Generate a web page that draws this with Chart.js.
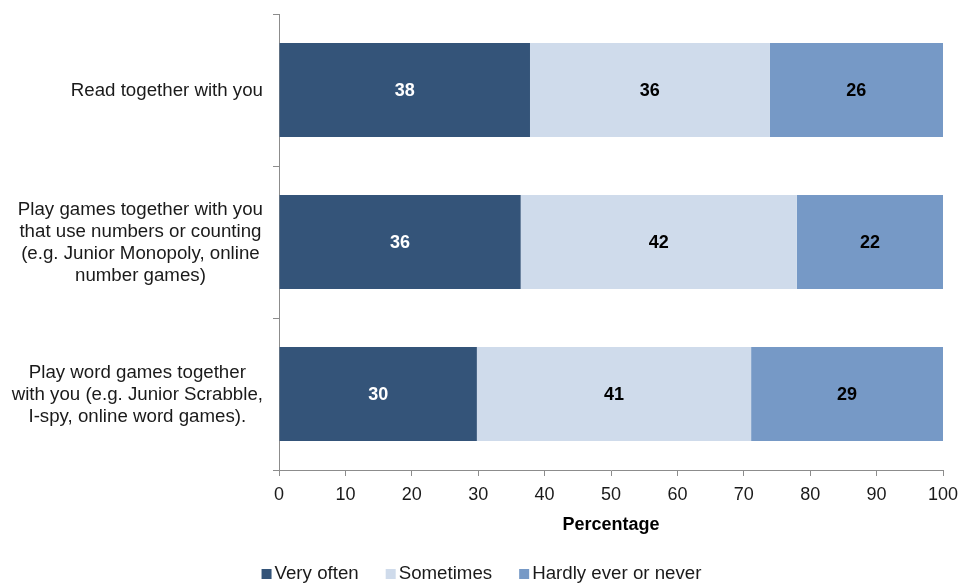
<!DOCTYPE html>
<html>
<head>
<meta charset="utf-8">
<script src="https://cdn.jsdelivr.net/npm/chart.js@4"></script>
<style>
  html, body { margin: 0; padding: 0; background: #fff; }
  #wrap { width: 959px; height: 583px; }
</style>
</head>
<body>
<div id="wrap"><canvas id="chart" width="959" height="583"></canvas></div>
<script>
// Activities and answer shares (percent)
const categories = [
    ['Read together with you'],
    ['Play games together with you', 'that use numbers or counting', '(e.g. Junior Monopoly, online', 'number games)'],
    ['Play word games together', 'with you (e.g. Junior Scrabble,', 'I-spy, online word games).']
];
const veryOften = [37.8, 36.4, 29.8];
const sometimes = [36.1, 41.6, 41.3];
const hardlyEver = [26.1, 22.0, 28.9];
const xTicks = [0, 10, 20, 30, 40, 50, 60, 70, 80, 90, 100];

const colors = {
    dark: '#345479',
    light: '#cfdbeb',
    mid: '#7699c6',
    axis: '#8c8c8c',
    text: '#1a1a1a'
};

const fontFamily = "'Liberation Sans', Arial, sans-serif";

// Draw the rounded value in the middle of every bar segment
const segmentLabels = {
    id: 'segmentLabels',
    afterDatasetsDraw(chart) {
        const ctx = chart.ctx;
        ctx.save();
        ctx.font = 'bold 18px ' + fontFamily;
        ctx.textAlign = 'center';
        ctx.textBaseline = 'middle';
        chart.data.datasets.forEach((ds, i) => {
            const meta = chart.getDatasetMeta(i);
            meta.data.forEach((bar, j) => {
                const mid = (bar.x + bar.base) / 2;
                ctx.fillStyle = i === 0 ? '#ffffff' : '#000000';
                ctx.fillText(Math.round(ds.data[j]), mid, bar.y + 1);
            });
        });
        ctx.restore();
    }
};

// Category labels: block right-aligned to the axis, lines centred inside the block
const categoryLabels = {
    id: 'categoryLabels',
    afterDraw(chart) {
        const ctx = chart.ctx;
        const yScale = chart.scales.y;
        const lineHeight = 22;
        const rightEdge = yScale.right - 16;
        ctx.save();
        ctx.font = '18.7px ' + fontFamily;
        ctx.fillStyle = colors.text;
        ctx.textAlign = 'center';
        ctx.textBaseline = 'middle';
        chart.data.labels.forEach((lines, i) => {
            const widest = Math.max(...lines.map(l => ctx.measureText(l).width));
            const cx = rightEdge - widest / 2;
            const cy = yScale.getPixelForTick(i);
            const top = cy - (lines.length - 1) * lineHeight / 2;
            lines.forEach((l, k) => ctx.fillText(l, cx, top + k * lineHeight + 1));
        });
        ctx.restore();
    }
};

// Legend drawn by hand so the swatch sits close to its text
const bottomLegend = {
    id: 'bottomLegend',
    afterDraw(chart) {
        const ctx = chart.ctx;
        const box = 10;
        const gapText = 3;
        const gapItem = 27;
        const y = chart.height - 10;
        ctx.save();
        ctx.font = '18.7px ' + fontFamily;
        ctx.textBaseline = 'middle';
        const items = chart.data.datasets.map(ds => ({
            label: ds.label,
            color: ds.backgroundColor,
            w: box + gapText + ctx.measureText(ds.label).width
        }));
        const total = items.reduce((s, it) => s + it.w, 0) + gapItem * (items.length - 1);
        let x = (chart.width - total) / 2 + 2;
        items.forEach(it => {
            ctx.fillStyle = it.color;
            ctx.fillRect(x, y - box / 2 + 1, box, box);
            ctx.fillStyle = colors.text;
            ctx.textAlign = 'left';
            ctx.fillText(it.label, x + box + gapText, y + 1);
            x += it.w + gapItem;
        });
        ctx.restore();
    }
};

new Chart(document.getElementById('chart'), {
    type: 'bar',
    data: {
        labels: categories,
        datasets: [
            { label: 'Very often', data: veryOften, backgroundColor: colors.dark },
            { label: 'Sometimes', data: sometimes, backgroundColor: colors.light },
            { label: 'Hardly ever or never', data: hardlyEver, backgroundColor: colors.mid }
        ]
    },
    options: {
        indexAxis: 'y',
        responsive: false,
        animation: false,
        layout: { autoPadding: false, padding: { top: 14, right: 16, left: 0, bottom: 45 } },
        datasets: {
            bar: { categoryPercentage: 0.62, barPercentage: 1.0 }
        },
        plugins: {
            tooltip: { enabled: false },
            legend: { display: false }
        },
        scales: {
            x: {
                stacked: true,
                min: 0,
                max: 100,
                afterBuildTicks: (scale) => {
                    scale.ticks = xTicks.map(v => ({ value: v }));
                },
                afterFit: (scale) => {
                    scale.height = 68;
                    scale.paddingLeft = 0;
                    scale.paddingRight = 0;
                },
                border: { color: colors.axis, width: 1 },
                grid: { drawOnChartArea: false, tickLength: 6, color: colors.axis },
                ticks: {
                    color: colors.text,
                    padding: 8,
                    maxRotation: 0,
                    font: { family: fontFamily, size: 18 }
                },
                title: {
                    display: true,
                    text: 'Percentage',
                    color: '#000',
                    padding: { top: 4, bottom: 2 },
                    font: { family: fontFamily, size: 18, weight: 'bold' }
                }
            },
            y: {
                stacked: true,
                afterFit: (scale) => {
                    scale.width = 279;
                    scale.paddingTop = 0;
                    scale.paddingBottom = 0;
                },
                border: { color: colors.axis, width: 1 },
                grid: { offset: true, drawOnChartArea: false, tickLength: 6, color: colors.axis },
                ticks: { display: false }
            }
        }
    },
    plugins: [segmentLabels, categoryLabels, bottomLegend]
});
</script>
</body>
</html>
